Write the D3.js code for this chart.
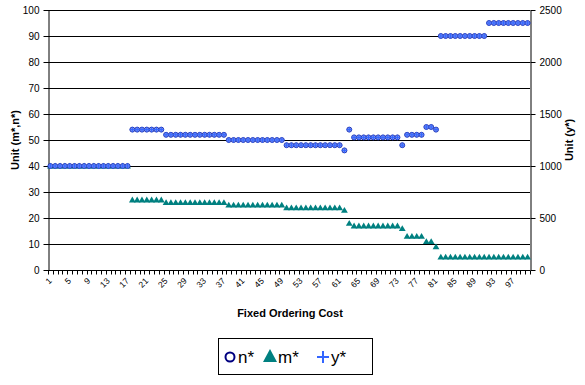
<!DOCTYPE html>
<html>
<head>
<meta charset="utf-8">
<script src="https://cdn.jsdelivr.net/npm/d3@7"></script>
<style>
  html, body { margin: 0; padding: 0; background: #fff; }
  svg { display: block; font-family: Arial, "Liberation Sans", sans-serif; }
</style>
</head>
<body>
<svg id="chart" width="585" height="385"></svg>
<script>
// Fixed ordering cost categories 1..100
const categories = d3.range(1, 101);

// Tick labels shown on the category axis
const xTickLabels = [1, 5, 9, 13, 17, 21, 25, 29, 33, 37, 41, 45, 49, 53, 57, 61, 65, 69, 73, 77, 81, 85, 89, 93, 97];

// n* (left axis)
const nStar = [
  40,40,40,40,40,40,40,40,40,40,40,40,40,40,40,40,40,
  54,54,54,54,54,54,54,
  52,52,52,52,52,52,52,52,52,52,52,52,52,
  50,50,50,50,50,50,50,50,50,50,50,50,
  48,48,48,48,48,48,48,48,48,48,48,48,
  46,
  54,
  51,51,51,51,51,51,51,51,51,51,
  48,
  52,52,52,52,
  55,55,
  54,
  90,90,90,90,90,90,90,90,90,90,
  95,95,95,95,95,95,95,95,95
];

// m* (left axis)
const mStar = [
  40,40,40,40,40,40,40,40,40,40,40,40,40,40,40,40,40,
  27,27,27,27,27,27,27,
  26,26,26,26,26,26,26,26,26,26,26,26,26,
  25,25,25,25,25,25,25,25,25,25,25,25,
  24,24,24,24,24,24,24,24,24,24,24,24,
  23,
  18,
  17,17,17,17,17,17,17,17,17,17,
  16,
  13,13,13,13,
  11,11,
  9,
  5,5,5,5,5,5,5,5,5,5,5,5,5,5,5,5,5,5,5
];

// y* (right axis)
const yStar = [
  1000,1000,1000,1000,1000,1000,1000,1000,1000,1000,1000,1000,1000,1000,1000,1000,1000,
  1350,1350,1350,1350,1350,1350,1350,
  1300,1300,1300,1300,1300,1300,1300,1300,1300,1300,1300,1300,1300,
  1250,1250,1250,1250,1250,1250,1250,1250,1250,1250,1250,1250,
  1200,1200,1200,1200,1200,1200,1200,1200,1200,1200,1200,1200,
  1150,
  1350,
  1275,1275,1275,1275,1275,1275,1275,1275,1275,1275,
  1200,
  1300,1300,1300,1300,
  1375,1375,
  1350,
  2250,2250,2250,2250,2250,2250,2250,2250,2250,2250,
  2375,2375,2375,2375,2375,2375,2375,2375,2375
];

const leftTicks = [0, 10, 20, 30, 40, 50, 60, 70, 80, 90, 100];
const rightTicks = [0, 500, 1000, 1500, 2000, 2500];

const plot = { left: 48, right: 530, top: 10, bottom: 270 };

const svg = d3.select("#chart");

const x = d3.scaleBand().domain(categories).range([plot.left, plot.right]).padding(0);
const yL = d3.scaleLinear().domain([0, 100]).range([plot.bottom, plot.top]);
const yR = d3.scaleLinear().domain([0, 2500]).range([plot.bottom, plot.top]);
const cx = c => x(c) + x.bandwidth() / 2;

// Horizontal gridlines
svg.append("g")
  .selectAll("line")
  .data(leftTicks.filter(t => t > 0))
  .join("line")
  .attr("x1", plot.left).attr("x2", plot.right)
  .attr("y1", d => Math.round(yL(d)) + 0.5).attr("y2", d => Math.round(yL(d)) + 0.5)
  .attr("stroke", "#000").attr("stroke-width", 1);

// Left axis
const gLeft = svg.append("g")
  .attr("transform", `translate(${plot.left + 0.5},0)`)
  .call(d3.axisLeft(yL).tickValues(leftTicks).tickSize(5).tickSizeOuter(0));
gLeft.selectAll("text").attr("font-size", 10).attr("fill", "#000").attr("dx", "-1");

// Right axis
const gRight = svg.append("g")
  .attr("transform", `translate(${plot.right + 0.5},0)`)
  .call(d3.axisRight(yR).tickValues(rightTicks).tickFormat(d3.format("d")).tickSize(5).tickSizeOuter(0));
gRight.selectAll("text").attr("font-size", 10).attr("fill", "#000").attr("dx", "1");

// Category axis
const gBottom = svg.append("g")
  .attr("transform", `translate(0,${plot.bottom + 0.5})`);
gBottom.append("line")
  .attr("x1", plot.left).attr("x2", plot.right)
  .attr("stroke", "#000");
gBottom.selectAll("line.tick")
  .data(categories.concat([null]))
  .join("line")
  .attr("class", "tick")
  .attr("x1", d => Math.round(d === null ? plot.right : x(d)) + 0.5)
  .attr("x2", d => Math.round(d === null ? plot.right : x(d)) + 0.5)
  .attr("y1", 0).attr("y2", 4)
  .attr("stroke", "#000");
gBottom.selectAll("text")
  .data(xTickLabels)
  .join("text")
  .attr("transform", d => `translate(${cx(d) + 2},${11}) rotate(-45)`)
  .attr("text-anchor", "end")
  .attr("font-size", 8.5)
  .attr("fill", "#000")
  .text(d => d);

// Axis titles
svg.append("text")
  .attr("transform", `translate(19,140) rotate(-90)`)
  .attr("text-anchor", "middle")
  .attr("font-size", 11).attr("font-weight", "bold")
  .text("Unit (m*,n*)");
svg.append("text")
  .attr("transform", `translate(573,140) rotate(-90)`)
  .attr("text-anchor", "middle")
  .attr("font-size", 11).attr("font-weight", "bold")
  .text("Unit (y*)");
svg.append("text")
  .attr("x", 290).attr("y", 317)
  .attr("text-anchor", "middle")
  .attr("font-size", 11).attr("font-weight", "bold")
  .text("Fixed Ordering Cost");

// m* triangles
const triPath = "M0,-3.2L3.4,2.6L-3.4,2.6Z";
svg.append("g")
  .selectAll("path")
  .data(categories.map((c, i) => ({ c, v: mStar[i] })))
  .join("path")
  .attr("d", triPath)
  .attr("transform", d => `translate(${cx(d.c)},${yL(d.v)})`)
  .attr("fill", "#008080");

// n* circles
svg.append("g")
  .selectAll("circle")
  .data(categories.map((c, i) => ({ c, v: nStar[i] })))
  .join("circle")
  .attr("cx", d => cx(d.c)).attr("cy", d => yL(d.v))
  .attr("r", 2.5)
  .attr("fill", "#7d94f0")
  .attr("stroke", "#1b2fb0").attr("stroke-width", 0.9);

// y* plus markers
svg.append("g")
  .selectAll("path")
  .data(categories.map((c, i) => ({ c, v: yStar[i] })))
  .join("path")
  .attr("d", "M-2.6,0H2.6M0,-2.6V2.6")
  .attr("transform", d => `translate(${cx(d.c)},${yR(d.v)})`)
  .attr("stroke", "#3366ff").attr("stroke-width", 1)
  .attr("fill", "none");

// Legend
const legend = svg.append("g").attr("transform", "translate(218,338)");
legend.append("rect")
  .attr("x", 0.5).attr("y", 0.5).attr("width", 154).attr("height", 36)
  .attr("fill", "#fff").attr("stroke", "#000").attr("stroke-width", 1);
legend.append("circle")
  .attr("cx", 12).attr("cy", 19).attr("r", 4.5)
  .attr("fill", "#fff").attr("stroke", "#000080").attr("stroke-width", 2);
legend.append("text")
  .attr("x", 20).attr("y", 25).attr("font-size", 17).text("n*");
legend.append("path")
  .attr("d", "M0,-7L7,6L-7,6Z")
  .attr("transform", "translate(52,18)")
  .attr("fill", "#008080");
legend.append("text")
  .attr("x", 60).attr("y", 25).attr("font-size", 17).text("m*");
legend.append("path")
  .attr("d", "M-6,0H6M0,-6V6")
  .attr("transform", "translate(105,19)")
  .attr("stroke", "#3366ff").attr("stroke-width", 2);
legend.append("text")
  .attr("x", 113).attr("y", 25).attr("font-size", 17).text("y*");
</script>
</body>
</html>
